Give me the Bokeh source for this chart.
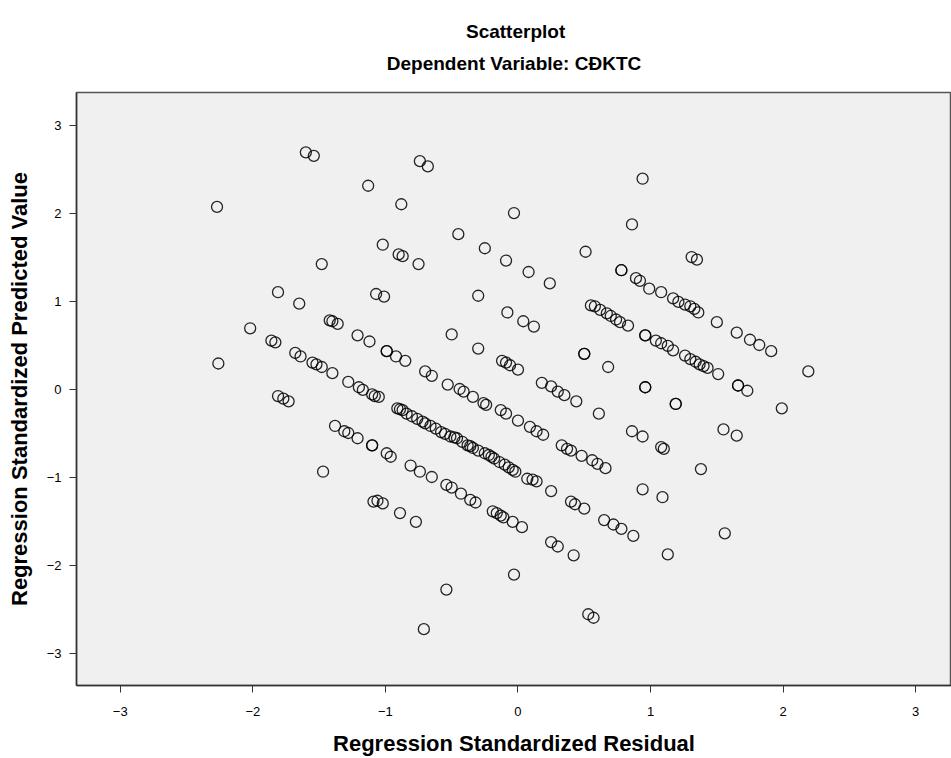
from bokeh.plotting import figure
from bokeh.models import Range1d, FixedTicker, Title
from bokeh.embed import file_html
from bokeh.resources import INLINE

# Regression standardized residual (x) and standardized predicted value (y)
residual = [
    -2.27, -1.60, -1.54, -1.13, -1.48, -1.81, -1.65, -1.07, -1.01,
    -0.74, -0.68, -0.88, -0.03, 0.94, 0.86, -0.45, -1.02, -0.25, -0.90, -0.87,
    -0.09, -0.75, 0.51, 0.08, 0.78, 0.78, 0.24, 0.89, 0.92, 0.99, 1.08, -0.30,
    1.31, 1.35, 1.17, 1.21, 1.26, 1.30, 1.33, 1.36, 1.50, 1.65, 1.75, 1.82, 1.91, 2.19,
    -2.02, -1.86, -1.83, -1.42, -1.40, -1.36, -1.21, -1.12, -2.26, -1.68, -1.64,
    -1.55, -1.52, -1.48, -1.40, -1.28, -1.20, -1.17, -1.10, -1.08, -1.05,
    -1.81, -1.77, -1.73, -1.38, -1.31, -1.28, -1.21, -1.10, -1.10, -1.47,
    -0.99, -0.96, -1.09, -1.06, -1.02, -0.89, -0.77,
    -0.08, 0.04, 0.12, -0.50, -0.30, -0.99, -0.99, -0.92, -0.85,
    -0.12, -0.09, -0.06, 0.00, -0.70, -0.65, -0.53,
    -0.44, -0.41, -0.34, -0.26, -0.24,
    0.18, 0.25, 0.30, 0.35, 0.44, 0.50, 0.50, 0.68,
    0.55, 0.58, 0.62, 0.67, 0.70, 0.74, 0.77, 0.83,
    0.96, 0.96, 1.04, 1.08, 1.13, 1.17, 1.26, 1.30, 1.34, 1.37, 1.40, 1.43,
    1.51, 1.66, 1.66, 1.73, 0.96, 0.96, 1.19, 1.19, 1.99,
    -0.91, -0.87, -0.84, -0.80, -0.76, -0.72, -0.66, -0.62, -0.58, -0.55, -0.51,
    -0.46, -0.42, -0.38, -0.34, -0.30, -0.25, -0.22, -0.18, -0.14, -0.10, -0.04, -0.02,
    -0.89, -0.70, -0.48, -0.36, -0.20, -0.07,
    -0.13, -0.09, 0.00, 0.09, 0.14, 0.19, 0.61, 0.86, 0.94, 1.08, 1.10,
    0.33, 0.37, 0.40, 0.48, 0.56, 0.60, 0.66,
    -0.81, -0.74, -0.65, -0.54, -0.50, -0.43, -0.36, -0.32,
    0.07, 0.11, 0.14, 0.25, 0.94, 1.09,
    -0.19, -0.16, -0.13, -0.11, -0.04, 0.03,
    0.40, 0.43, 0.50, 0.65, 0.72, 0.78, 0.87,
    0.25, 0.30, 0.42, -0.03, -0.54, -0.71, 0.53, 0.57,
    1.13, 1.56, 1.38, 1.55, 1.65,
]
predicted = [
    2.08, 2.70, 2.66, 2.32, 1.43, 1.11, 0.98, 1.09, 1.06,
    2.60, 2.54, 2.11, 2.01, 2.40, 1.88, 1.77, 1.65, 1.61, 1.54, 1.52,
    1.47, 1.43, 1.57, 1.34, 1.36, 1.36, 1.21, 1.27, 1.24, 1.15, 1.11, 1.07,
    1.51, 1.48, 1.04, 1.00, 0.97, 0.95, 0.92, 0.88, 0.77, 0.65, 0.57, 0.51, 0.44, 0.21,
    0.70, 0.56, 0.54, 0.79, 0.78, 0.75, 0.62, 0.55, 0.30, 0.42, 0.38,
    0.31, 0.29, 0.26, 0.19, 0.09, 0.03, 0.00, -0.05, -0.07, -0.08,
    -0.07, -0.10, -0.13, -0.41, -0.47, -0.49, -0.55, -0.63, -0.63, -0.93,
    -0.72, -0.76, -1.27, -1.26, -1.29, -1.40, -1.50,
    0.88, 0.78, 0.72, 0.63, 0.47, 0.44, 0.44, 0.38, 0.33,
    0.33, 0.31, 0.28, 0.23, 0.21, 0.16, 0.06,
    0.01, -0.02, -0.08, -0.15, -0.17,
    0.08, 0.04, -0.02, -0.06, -0.13, 0.41, 0.41, 0.26,
    0.96, 0.95, 0.91, 0.87, 0.84, 0.80, 0.77, 0.73,
    0.62, 0.62, 0.56, 0.53, 0.50, 0.45, 0.39, 0.35, 0.32, 0.29, 0.27, 0.25,
    0.18, 0.05, 0.05, -0.01, 0.03, 0.03, -0.16, -0.16, -0.21,
    -0.21, -0.23, -0.27, -0.30, -0.33, -0.36, -0.41, -0.44, -0.48, -0.50, -0.53,
    -0.55, -0.59, -0.63, -0.66, -0.69, -0.72, -0.74, -0.78, -0.82, -0.85, -0.91, -0.93,
    -0.22, -0.38, -0.54, -0.64, -0.76, -0.88,
    -0.23, -0.27, -0.35, -0.42, -0.47, -0.51, -0.27, -0.47, -0.53, -0.65, -0.67,
    -0.63, -0.67, -0.69, -0.75, -0.80, -0.84, -0.89,
    -0.86, -0.93, -0.99, -1.08, -1.11, -1.18, -1.25, -1.28,
    -1.01, -1.02, -1.04, -1.15, -1.13, -1.22,
    -1.38, -1.40, -1.43, -1.45, -1.50, -1.56,
    -1.27, -1.30, -1.35, -1.48, -1.53, -1.58, -1.66,
    -1.73, -1.78, -1.88, -2.10, -2.27, -2.72, -2.55, -2.59,
    -1.87, -1.63, -0.90, -0.45, -0.52,
]

tick_values = [-3, -2, -1, 0, 1, 2, 3]
title_main = "Scatterplot"
title_sub = "Dependent Variable: CĐKTC"

FONT = "Liberation Sans"

p = figure(
    width=951, height=758,
    x_range=Range1d(-3.33, 3.27), y_range=Range1d(-3.36, 3.38),
    output_backend="svg", toolbar_location=None, title=None,
    min_border_left=76, min_border_right=0, min_border_top=92, min_border_bottom=70,
)

# two-line heading; the first line is centred over the second with no-break spaces
pad = "\u00a0" * 15
p.add_layout(Title(text=pad + title_main + "\n" + title_sub, align="center",
                   text_font=FONT, text_font_size="19px", text_font_style="bold",
                   text_color="#000000", text_line_height=1.54, standoff=37),
             "above")

p.scatter(residual, predicted, marker="circle", size=11, fill_color=None,
          line_color="black", line_alpha=0.85, line_width=1.3)

p.background_fill_color = "#F0F0F0"
p.border_fill_color = "white"
p.outline_line_color = "#555555"
p.outline_line_width = 1.5
p.grid.visible = False

for ax in (p.xaxis, p.yaxis):
    ax.ticker = FixedTicker(ticks=tick_values)
    ax.major_tick_out = 7
    ax.major_tick_in = 0
    ax.minor_tick_out = 0
    ax.minor_tick_in = 0
    ax.axis_line_color = "#333333"
    ax.axis_line_width = 1.5
    ax.major_tick_line_color = "#333333"
    ax.major_label_text_font = FONT
    ax.major_label_text_font_size = "13px"
    ax.major_label_text_color = "#000000"
    ax.axis_label_text_font = FONT
    ax.axis_label_text_font_size = "22px"
    ax.axis_label_text_font_style = "bold"
    ax.axis_label_text_color = "#000000"

p.xaxis.axis_label = "Regression Standardized Residual"
p.yaxis.axis_label = "Regression Standardized Predicted Value"
p.xaxis.major_label_standoff = 14
p.yaxis.major_label_standoff = 8
p.xaxis.axis_label_standoff = 12
p.yaxis.axis_label_standoff = 12

open("out.html", "w").write(file_html(p, INLINE))
